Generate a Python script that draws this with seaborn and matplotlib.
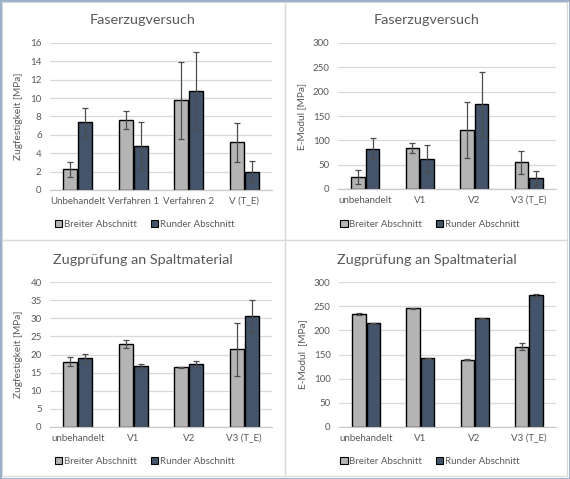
import numpy as np
import pandas as pd
import matplotlib
matplotlib.use("Agg")
import matplotlib.pyplot as plt
import seaborn as sns
from matplotlib.patches import Patch, Rectangle

# Daten
reihen = ["Breiter Abschnitt", "Runder Abschnitt"]

kat_faser_zug = ["Unbehandelt", "Verfahren 1", "Verfahren 2", "V (T_E)"]
faser_zug_breit = [2.25, 7.65, 9.75, 5.2]
faser_zug_breit_err = [0.85, 1.0, 4.2, 2.1]
faser_zug_rund = [7.35, 4.8, 10.8, 2.0]
faser_zug_rund_err = [1.6, 2.6, 4.2, 1.15]

kat_faser_e = ["unbehandelt", "V1", "V2", "V3 (T_E)"]
faser_e_breit = [25, 84, 121, 54.5]
faser_e_breit_err = [15, 10, 57, 24]
faser_e_rund = [82.5, 62, 174.5, 23]
faser_e_rund_err = [21.5, 28, 66, 14]

kat_spalt = ["unbehandelt", "V1", "V2", "V3 (T_E)"]
spalt_zug_breit = [18.0, 23.0, 16.5, 21.4]
spalt_zug_breit_err = [1.2, 1.1, 0.1, 7.2]
spalt_zug_rund = [18.9, 16.8, 17.4, 30.7]
spalt_zug_rund_err = [1.2, 0.5, 0.9, 4.4]

spalt_e_breit = [234, 246, 139, 166]
spalt_e_breit_err = [2, 1, 1, 7]
spalt_e_rund = [215, 142, 225, 273]
spalt_e_rund_err = [1, 1, 1, 3]

FARBEN = ["#b4b4b4", "#44546a"]
TEXT = "#595959"
GRID = "#d9d9d9"
FONT = "Lato"

W, H = 570, 479
plt.rcParams["font.family"] = [FONT, "DejaVu Sans"]


def box(x0, y0, x1, y1):
    # Pixelkoordinaten (von oben) -> Figurkoordinaten
    return [x0 / W, 1 - y1 / H, (x1 - x0) / W, (y1 - y0) / H]


def panel(fig, rect, kats, breit, breit_err, rund, rund_err, ymax, ystep,
          ylabel, titel, titel_xy, legende_xy):
    ax = fig.add_axes(box(*rect))
    df = pd.DataFrame({
        "Kategorie": kats * 2,
        "Wert": list(breit) + list(rund),
        "Reihe": [reihen[0]] * len(kats) + [reihen[1]] * len(kats),
    })
    sns.barplot(data=df, x="Kategorie", y="Wert", hue="Reihe",
                palette=FARBEN, width=0.54, gap=0.08, errorbar=None,
                edgecolor="black", linewidth=1.0, saturation=1, ax=ax,
                legend=False)
    for cont, err in zip(ax.containers, [breit_err, rund_err]):
        xs = [b.get_x() + b.get_width() / 2 for b in cont]
        hs = [b.get_height() for b in cont]
        ax.errorbar(xs, hs, yerr=err, fmt="none", ecolor="#4d4d4d",
                    elinewidth=0.9, capsize=2.2, capthick=0.9, zorder=5)
    ax.set_ylim(0, ymax)
    ax.set_xlim(-0.5, len(kats) - 0.5)
    ax.set_yticks(np.arange(0, ymax + ystep / 2, ystep))
    ax.yaxis.grid(True, color=GRID, linewidth=0.9)
    ax.set_axisbelow(True)
    for s in ["top", "right", "left"]:
        ax.spines[s].set_visible(False)
    ax.spines["bottom"].set_color("#c8c8c8")
    ax.spines["bottom"].set_linewidth(0.9)
    ax.tick_params(length=0, labelsize=7, colors=TEXT)
    ax.tick_params(axis="x", pad=5)
    ax.tick_params(axis="y", pad=6)
    ax.set_xlabel("")
    ax.set_ylabel(ylabel, fontsize=7.3, color=TEXT, labelpad=5)
    fig.text(titel_xy[0] / W, 1 - titel_xy[1] / H, titel, ha="center",
             va="center", fontsize=10.4, color=TEXT)
    handles = [Patch(facecolor=c, edgecolor="black", linewidth=0.8)
               for c in FARBEN]
    fig.legend(handles, reihen, loc="center",
               bbox_to_anchor=(legende_xy[0] / W, 1 - legende_xy[1] / H),
               ncol=2, frameon=False, fontsize=7, labelcolor=TEXT,
               handlelength=0.75, handleheight=0.75, handletextpad=0.2,
               columnspacing=1.4)
    return ax


fig = plt.figure(figsize=(W / 100, H / 100), dpi=100)
fig.patch.set_facecolor("white")

# Rahmen der vier Diagramme
for x0, y0, x1, y1 in [(1.5, 1.5, 285, 240), (285, 1.5, 567, 240),
                       (1.5, 240, 285, 475.5), (285, 240, 567, 475.5)]:
    fig.add_artist(Rectangle((x0 / W, 1 - y1 / H), (x1 - x0) / W,
                             (y1 - y0) / H, transform=fig.transFigure,
                             fill=False, edgecolor=GRID, linewidth=0.9))
fig.add_artist(Rectangle((0.5 / W, 0.5 / H), (W - 1) / W, (H - 1) / H,
                         transform=fig.transFigure, fill=False,
                         edgecolor="#9aaecb", linewidth=1.4))

panel(fig, (50, 43, 272, 190), kat_faser_zug, faser_zug_breit,
      faser_zug_breit_err, faser_zug_rund, faser_zug_rund_err, 16, 2,
      "Zugfestigkeit [MPa]", "Faserzugversuch", (143, 20), (145, 224))

panel(fig, (338, 43, 556, 189), kat_faser_e, faser_e_breit,
      faser_e_breit_err, faser_e_rund, faser_e_rund_err, 300, 50,
      "E-Modul [MPa]", "Faserzugversuch", (427, 20), (430, 224))

panel(fig, (50, 282, 272, 427), kat_spalt, spalt_zug_breit,
      spalt_zug_breit_err, spalt_zug_rund, spalt_zug_rund_err, 40, 5,
      "Zugfestigkeit [MPa]", "Zugprüfung an Spaltmaterial", (143, 260),
      (145, 461))

panel(fig, (339, 282, 556, 427), kat_spalt, spalt_e_breit,
      spalt_e_breit_err, spalt_e_rund, spalt_e_rund_err, 300, 50,
      "E-Modul  [MPa]", "Zugprüfung an Spaltmaterial", (427, 260),
      (430, 461))

fig.savefig("out.png", dpi=100)
